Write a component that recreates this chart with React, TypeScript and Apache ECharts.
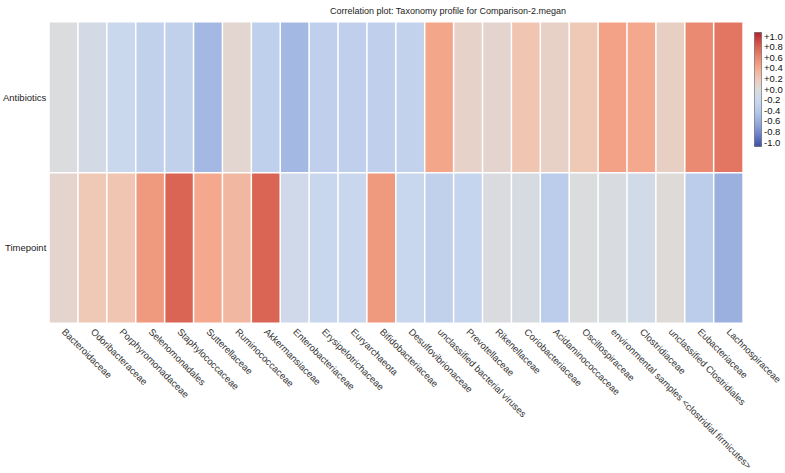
import React, { useEffect, useRef } from "react";
import * as echarts from "echarts";

const titleText = "Correlation plot: Taxonomy profile for Comparison-2.megan";

const taxa = [
  "Bacteroidaceae",
  "Odoribacteraceae",
  "Porphyromonadaceae",
  "Selenomonadales",
  "Staphylococcaceae",
  "Sutterellaceae",
  "Ruminococcaceae",
  "Akkermansiaceae",
  "Enterobacteriaceae",
  "Erysipelotrichaceae",
  "Euryarchaeota",
  "Bifidobacteriaceae",
  "Desulfovibrionaceae",
  "unclassified bacterial viruses",
  "Prevotellaceae",
  "Rikenellaceae",
  "Coriobacteriaceae",
  "Acidaminococcaceae",
  "Oscillospiraceae",
  "environmental samples <clostridial firmicutes>",
  "Clostridiaceae",
  "unclassified Clostridiales",
  "Eubacteriaceae",
  "Lachnospiraceae",
];

const rows = ["Timepoint", "Antibiotics"];

const antibiotics = [
  -0.02, -0.1, -0.2, -0.28, -0.28, -0.5, 0.07, -0.3, -0.5, -0.29, -0.29, -0.29,
  -0.27, 0.4, 0.1, 0.08, 0.22, 0.12, 0.2, 0.42, 0.38, 0.13, 0.55, 0.65,
];

const timepoint = [
  0.08, 0.2, 0.22, 0.47, 0.73, 0.38, 0.3, 0.73, -0.14, -0.22, -0.22, 0.47, -0.22,
  -0.28, -0.24, -0.03, -0.07, -0.33, -0.02, -0.04, -0.12, 0.02, -0.33, -0.55,
];

const legendTicks = ["+1.0", "+0.8", "+0.6", "+0.4", "+0.2", "+0.0", "-0.2", "-0.4", "-0.6", "-0.8", "-1.0"];

const palette = [
  "#3c4fa8",
  "#6a7fc8",
  "#93a8da",
  "#b3c7ea",
  "#cad8ee",
  "#dcdcdc",
  "#efc8b6",
  "#f4a68a",
  "#e7806a",
  "#d4564a",
  "#b5202e",
];

export default function App() {
  const ref = useRef<HTMLDivElement>(null);

  useEffect(() => {
    if (!ref.current) return;
    const chart = echarts.init(ref.current, undefined, { renderer: "svg" });

    const data: [number, number, number][] = [];
    timepoint.forEach((v, i) => data.push([i, 0, v]));
    antibiotics.forEach((v, i) => data.push([i, 1, v]));

    const font = "'Liberation Sans', Arial, sans-serif";

    const legendLabels = legendTicks.map((t, i) => ({
      type: "text",
      left: 764,
      top: 31 + i * 10.6,
      style: { text: t, fontSize: 9.5, fontFamily: font, fill: "#111" },
    }));

    chart.setOption({
      animation: false,
      backgroundColor: "#ffffff",
      title: {
        text: titleText,
        left: 325,
        top: 1,
        textStyle: { fontSize: 9, fontWeight: "normal", color: "#222", fontFamily: font },
      },
      grid: { left: 44, right: 38, top: 22, bottom: 139 },
      xAxis: {
        type: "category",
        data: taxa,
        axisLine: { show: false },
        axisTick: { show: false },
        splitArea: { show: false },
        axisLabel: {
          rotate: -45,
          interval: 0,
          margin: 7,
          fontSize: 9.5,
          color: "#333",
          fontFamily: font,
        },
      },
      yAxis: {
        type: "category",
        data: rows,
        axisLine: { show: false },
        axisTick: { show: false },
        splitArea: { show: false },
        axisLabel: { fontSize: 9.5, color: "#222", margin: 3, fontFamily: font },
      },
      visualMap: {
        type: "continuous",
        min: -1,
        max: 1,
        orient: "vertical",
        left: 754,
        top: 32,
        itemWidth: 7,
        itemHeight: 114,
        padding: 0,
        borderColor: "#666",
        borderWidth: 1,
        calculable: false,
        hoverLink: false,
        inRange: { color: palette },
      },
      series: [
        {
          type: "heatmap",
          data,
          itemStyle: { borderColor: "#ffffff", borderWidth: 1.5 },
          emphasis: { disabled: true },
        },
      ],
      graphic: legendLabels,
    });

    return () => chart.dispose();
  }, []);

  return (
    <div
      ref={ref}
      style={{ position: "absolute", left: 0, top: 0, width: 785, height: 473 }}
    />
  );
}
